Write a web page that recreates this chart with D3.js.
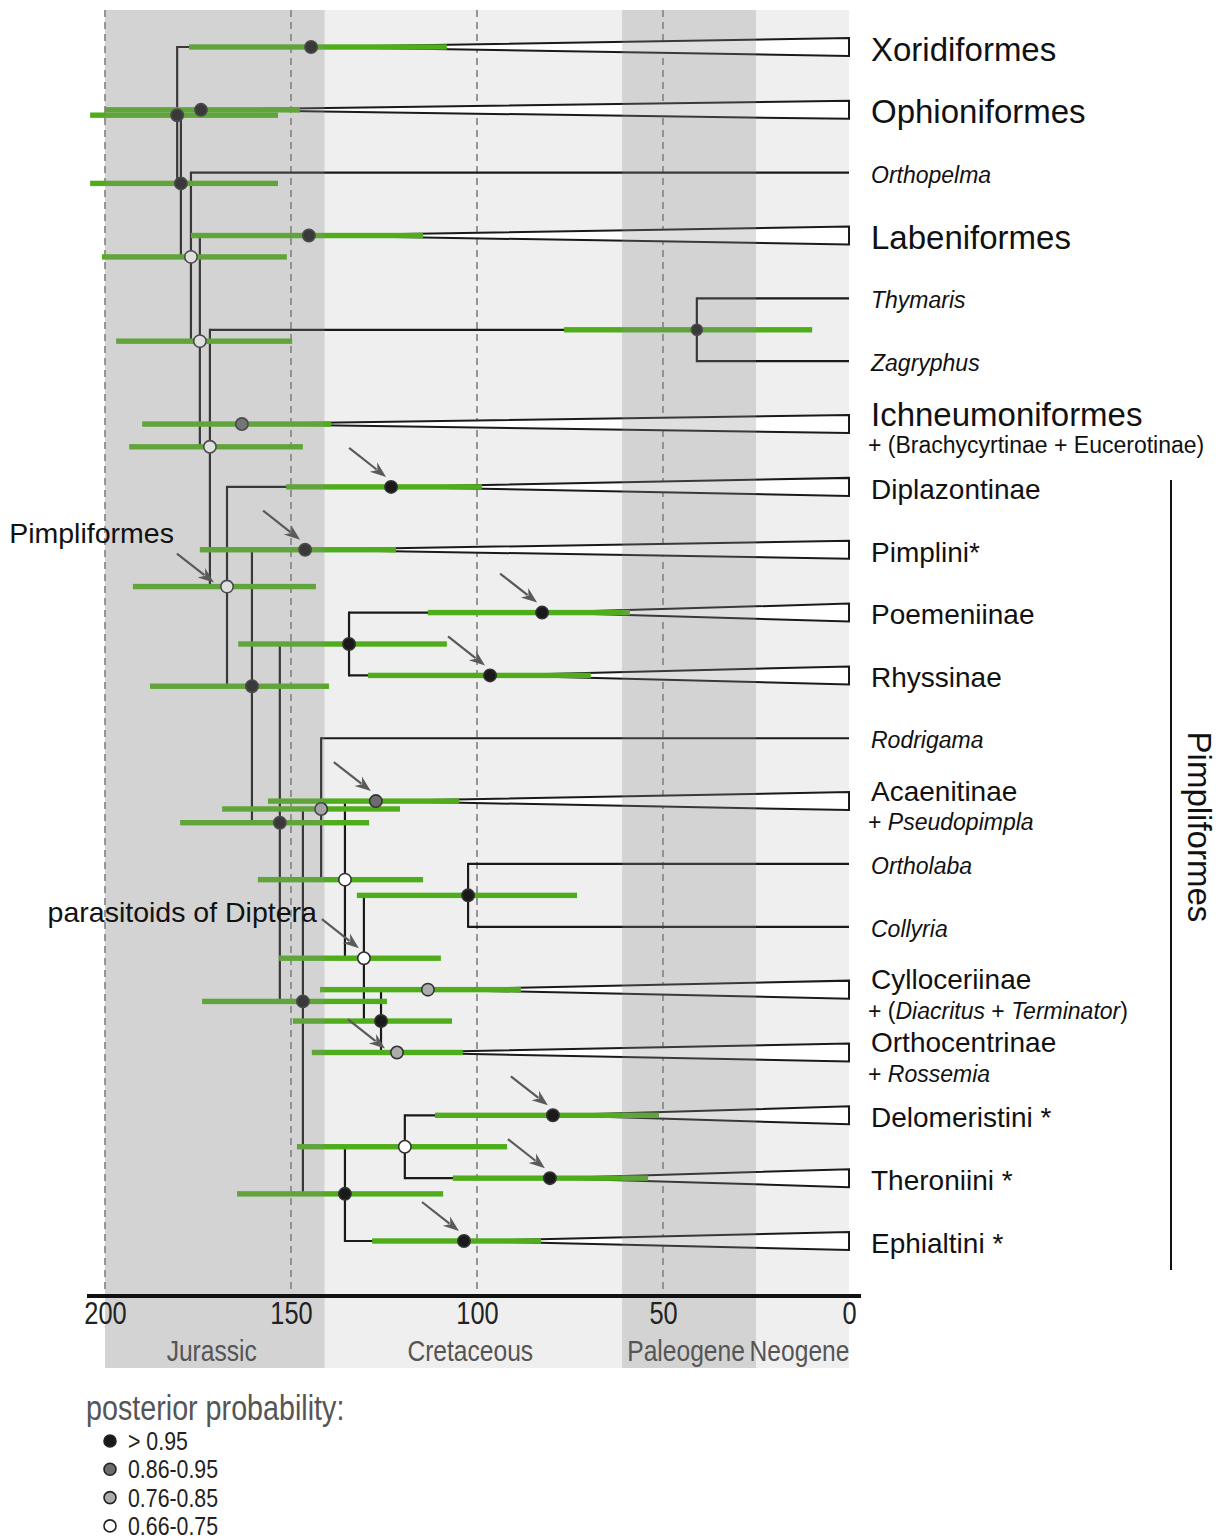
<!DOCTYPE html>
<html lang="en">
  <head>
    <meta charset="UTF-8" />
    <title>Pimpliformes dated tree</title>
    <script src="https://cdn.jsdelivr.net/npm/d3@7"></script>
    <style>
      body { margin: 0; background: #fff; }
      text { font-family: "Liberation Sans", Arial, Helvetica, sans-serif; }
    </style>
  </head>
  <body>
    <svg id="container" width="1223" height="1540"></svg>
    <script>
      // tree nodes: [id, parent, age (Ma), 95% HPD old, 95% HPD young, posterior class]
      // tips with age 0 are single genera, tips with an age are collapsed clades
      let nodes = [
        ["root", null, 180.6, 204, 153.5, 0],
        ["Xoridiformes", "root", 144.6, 177.4, 108.1, 0],
        ["n2", "root", 179.6, 204, 153.5, 0],
        ["Ophioniformes", "n2", 174.2, 200, 147.6, 0],
        ["n3", "n2", 176.9, 200.8, 151.1, 3],
        ["Orthopelma", "n3", 0],
        ["n4", "n3", 174.5, 197, 149.7, 3],
        ["Labeniformes", "n4", 145.2, 176.9, 114.5, 0],
        ["n5", "n4", 171.8, 193.5, 146.8, 3],
        ["n6", "n5", 40.9, 76.6, 9.9, 0],
        ["Thymaris", "n6", 0],
        ["Zagryphus", "n6", 0],
        ["Ichneumoniformes", "n5", 163.2, 190, 139.2, 1],
        ["Pimpliformes", "n5", 167.2, 192.5, 143.3, 3],
        ["Diplazontinae", "Pimpliformes", 123.1, 151.3, 98.7, 0],
        ["n8", "Pimpliformes", 160.5, 187.9, 139.8, 0],
        ["Pimplini", "n8", 146.2, 174.5, 121.8, 0],
        ["n9", "n8", 153, 179.8, 129, 0],
        ["n10", "n9", 134.4, 164.2, 108.1, 0],
        ["Poemeniinae", "n10", 82.5, 113.2, 58.9, 0],
        ["Rhyssinae", "n10", 96.5, 129.3, 69.4, 0],
        ["n11", "n9", 146.8, 173.9, 124.2, 0],
        ["n12", "n11", 141.9, 168.5, 120.7, 2],
        ["Rodrigama", "n12", 0],
        ["n13", "n12", 135.5, 158.9, 114.5, 3],
        ["Acaenitinae", "n13", 127.2, 156.2, 104.8, 1],
        ["Diptera", "n13", 130.4, 153.2, 109.7, 3],
        ["n15", "Diptera", 102.4, 132.3, 73.1, 0],
        ["Ortholaba", "n15", 0],
        ["Collyria", "n15", 0],
        ["n16", "Diptera", 125.8, 149.5, 106.7, 0],
        ["Cylloceriinae", "n16", 113.2, 142.2, 88.2, 2],
        ["Orthocentrinae", "n16", 121.5, 144.4, 103.8, 2],
        ["n17", "n11", 135.5, 164.5, 109.1, 0],
        ["n18", "n17", 119.4, 148.4, 91.9, 3],
        ["Delomeristini", "n18", 79.6, 111.3, 51.1, 0],
        ["Theroniini", "n18", 80.4, 106.5, 54, 0],
        ["Ephialtini", "n17", 103.5, 128.2, 82.8, 0],
      ];

      // tip labels: [tip, text, kind]
      let tipLabels = [
        ["Xoridiformes", "Xoridiformes", "major"],
        ["Ophioniformes", "Ophioniformes", "major"],
        ["Orthopelma", "Orthopelma", "genus"],
        ["Labeniformes", "Labeniformes", "major"],
        ["Thymaris", "Thymaris", "genus"],
        ["Zagryphus", "Zagryphus", "genus"],
        ["Ichneumoniformes", "Ichneumoniformes", "major"],
        ["Diplazontinae", "Diplazontinae", "group"],
        ["Pimplini", "Pimplini*", "group"],
        ["Poemeniinae", "Poemeniinae", "group"],
        ["Rhyssinae", "Rhyssinae", "group"],
        ["Rodrigama", "Rodrigama", "genus"],
        ["Acaenitinae", "Acaenitinae", "group"],
        ["Ortholaba", "Ortholaba", "genus"],
        ["Collyria", "Collyria", "genus"],
        ["Cylloceriinae", "Cylloceriinae", "group"],
        ["Orthocentrinae", "Orthocentrinae", "group"],
        ["Delomeristini", "Delomeristini *", "group"],
        ["Theroniini", "Theroniini *", "group"],
        ["Ephialtini", "Ephialtini *", "group"],
      ];

      // second lines under some tip labels: [tip, [text, italic]...]
      let subLabels = [
        ["Ichneumoniformes", [["+ (Brachycyrtinae + Eucerotinae)", false]]],
        ["Acaenitinae", [["+ ", false], ["Pseudopimpla", true]]],
        ["Cylloceriinae", [["+ (", false], ["Diacritus", true], [" + ", false], ["Terminator", true], [")", false]]],
        ["Orthocentrinae", [["+ ", false], ["Rossemia", true]]],
      ];

      // nodes pointed at by arrows
      let arrowNodes = ["Diplazontinae", "Pimplini", "Poemeniinae", "Rhyssinae", "Acaenitinae",
        "Diptera", "Delomeristini", "Theroniini", "Ephialtini"];
      let arrowStems = ["Pimpliformes", "Orthocentrinae"];
      let callouts = [["Pimpliformes", "Pimpliformes"], ["Diptera", "parasitoids of Diptera"]];

      // geological periods: [name, start Ma, end Ma, shaded]
      let periods = [
        ["Jurassic", 200, 141, true],
        ["Cretaceous", 141, 61, false],
        ["Paleogene", 61, 25, true],
        ["Neogene", 25, 0, false],
      ];
      let ageTicks = [200, 150, 100, 50, 0];
      let gridAges = [200, 150, 100, 50];

      let ppClasses = ["> 0.95", "0.86-0.95", "0.76-0.85", "0.66-0.75"];
      let ppFills = ["#1a1a1a", "#6c6c6c", "#acacac", "#ffffff"];

      let svg = d3.select("#container");
      let plotTop = 10, axisY = 1296, plotBottom = 1368;
      let x = d3.scaleLinear().domain([200, 0]).range([105, 849]);
      let y = d3.scaleLinear().domain([0, 19]).range([47, 1241]);
      let ppColor = d3.scaleOrdinal().domain([0, 1, 2, 3]).range(ppFills);
      let narrow = 0.82;

      // build the hierarchy
      let root = d3.stratify().id((d) => d[0]).parentId((d) => d[1])(nodes);
      root.each((n) => { n.age = n.data[2]; });
      root.leaves().forEach((l, i) => { l.yy = y(i); });
      root.eachAfter((n) => {
        if (n.children) n.yy = d3.mean(n.children, (c) => c.yy);
      });
      let byId = {};
      root.each((n) => { byId[n.id] = n; });

      // background
      svg.append("rect")
        .attr("x", x(200)).attr("y", plotTop)
        .attr("width", x(0) - x(200)).attr("height", plotBottom - plotTop)
        .attr("fill", "#efefef");

      svg.append("g").selectAll("line").data(gridAges).enter().append("line")
        .attr("x1", (d) => x(d)).attr("x2", (d) => x(d))
        .attr("y1", plotTop).attr("y2", axisY)
        .attr("stroke", "#8c8c8c").attr("stroke-width", 1.8)
        .attr("stroke-dasharray", "7,5");

      let tree = svg.append("g");
      let ink = "#1a1a1a";

      // vertical connectors
      tree.selectAll("line.v").data(root.descendants().filter((n) => n.children)).enter()
        .append("line").attr("class", "v")
        .attr("x1", (n) => x(n.age)).attr("x2", (n) => x(n.age))
        .attr("y1", (n) => d3.min(n.children, (c) => c.yy) - 1)
        .attr("y2", (n) => d3.max(n.children, (c) => c.yy) + 1)
        .attr("stroke", ink).attr("stroke-width", 2.2);

      // horizontal branches
      tree.selectAll("line.h").data(root.descendants().filter((n) => n.parent)).enter()
        .append("line").attr("class", "h")
        .attr("x1", (n) => x(n.parent.age)).attr("x2", (n) => x(n.age))
        .attr("y1", (n) => n.yy).attr("y2", (n) => n.yy)
        .attr("stroke", ink).attr("stroke-width", 2.2);

      // collapsed clades
      let collapsed = root.leaves().filter((l) => l.age > 0);
      tree.selectAll("path.clade").data(collapsed).enter()
        .append("path").attr("class", "clade")
        .attr("d", (n) => `M${x(n.age)},${n.yy}L${x(0)},${n.yy - 9}L${x(0)},${n.yy + 9}Z`)
        .attr("fill", "#fff").attr("stroke", ink).attr("stroke-width", 2)
        .attr("stroke-linejoin", "miter");

      // 95% HPD bars
      let dated = root.descendants().filter((n) => n.age > 0);
      tree.selectAll("rect.hpd").data(dated).enter()
        .append("rect").attr("class", "hpd")
        .attr("x", (n) => x(n.data[3])).attr("width", (n) => x(n.data[4]) - x(n.data[3]))
        .attr("y", (n) => n.yy - 2.7).attr("height", 5.4)
        .attr("fill", "#4fad1c");

      // node support
      tree.selectAll("circle").data(dated).enter().append("circle")
        .attr("cx", (n) => x(n.age)).attr("cy", (n) => n.yy)
        .attr("r", (n) => (n.id === "n6" ? 5.5 : 6.2))
        .attr("fill", (n) => ppColor(n.data[5]))
        .attr("stroke", "#333").attr("stroke-width", 1.6);

      // shaded periods sit over the tree like a tinted film
      svg.append("g").selectAll("rect").data(periods.filter((p) => p[3])).enter()
        .append("rect")
        .attr("x", (p) => x(p[1])).attr("width", (p) => x(p[2]) - x(p[1]))
        .attr("y", plotTop).attr("height", plotBottom - plotTop)
        .attr("fill", "rgb(140,140,140)").attr("opacity", 0.28);

      // time axis
      svg.append("line")
        .attr("x1", x(200) - 18).attr("x2", x(0) + 12)
        .attr("y1", axisY).attr("y2", axisY)
        .attr("stroke", "#111").attr("stroke-width", 4);
      let axis = svg.append("g").attr("transform", `translate(0,${axisY})`)
        .call(d3.axisBottom(x).tickValues(ageTicks).tickSize(0).tickPadding(6));
      axis.select(".domain").remove();
      axis.selectAll("text")
        .attr("font-size", 31).attr("fill", "#222")
        .attr("font-family", "Liberation Sans, Arial, sans-serif")
        .attr("transform", `scale(${narrow},1)`);

      svg.append("g").selectAll("text").data(periods).enter().append("text")
        .attr("transform", (p) => `translate(${x((p[1] + p[2]) / 2) - 3},${plotBottom - 7}) scale(${narrow},1)`)
        .attr("text-anchor", "middle").attr("font-size", 30).attr("fill", "#555")
        .text((p) => p[0]);

      // tip labels
      let labelX = 871;
      let sizes = { major: 33, group: 28, genus: 23 };
      let subTips = subLabels.map((s) => s[0]);
      let labels = svg.append("g");
      tipLabels.forEach(([tip, txt, kind]) => {
        let n = byId[tip];
        let yy = subTips.includes(tip) ? n.yy - 10 : n.yy + 2;
        labels.append("text")
          .attr("x", labelX).attr("y", yy).attr("dy", "0.35em")
          .attr("font-size", sizes[kind])
          .attr("font-style", kind === "genus" ? "italic" : "normal")
          .attr("fill", "#111").text(txt);
      });
      subLabels.forEach(([tip, parts]) => {
        let t = labels.append("text")
          .attr("x", labelX - 3).attr("y", byId[tip].yy + 21).attr("dy", "0.35em")
          .attr("font-size", 23).attr("fill", "#111");
        parts.forEach(([s, it]) => {
          t.append("tspan").attr("font-style", it ? "italic" : "normal").text(s);
        });
      });

      // Pimpliformes bracket
      let pimpl = byId["Pimpliformes"].leaves();
      let bTop = pimpl[0].yy - 7, bBottom = pimpl[pimpl.length - 1].yy + 29;
      svg.append("line")
        .attr("x1", 1171).attr("x2", 1171).attr("y1", bTop).attr("y2", bBottom)
        .attr("stroke", "#111").attr("stroke-width", 2);
      svg.append("text")
        .attr("transform", `translate(1200,${(bTop + bBottom) / 2 - 48}) rotate(90)`)
        .attr("text-anchor", "middle").attr("dy", "0.35em")
        .attr("font-size", 33).attr("fill", "#111").text("Pimpliformes");

      // arrows
      let arrows = svg.append("g");
      function arrow(x2, y2) {
        let x1 = x2 - 37, y1 = y2 - 29;
        let a = Math.atan2(y2 - y1, x2 - x1), L = 16, W = 6;
        let c = Math.cos(a), s = Math.sin(a);
        let bx = x2 - L * c, by = y2 - L * s;
        arrows.append("line")
          .attr("x1", x1).attr("y1", y1).attr("x2", bx + 4 * c).attr("y2", by + 4 * s)
          .attr("stroke", "#5a5a5a").attr("stroke-width", 2.2);
        arrows.append("path")
          .attr("d", `M${x2},${y2}L${bx - W * s},${by + W * c}L${bx + 5 * c},${by + 5 * s}L${bx + W * s},${by - W * c}Z`)
          .attr("fill", "#5a5a5a");
        return [x1, y1];
      }
      let arrowStart = {};
      arrowNodes.forEach((id) => {
        let n = byId[id];
        arrowStart[id] = arrow(x(n.age) - 5, n.yy - 10);
      });
      arrowStems.forEach((id) => {
        let n = byId[id];
        arrowStart[id] = arrow(x(n.parent.age) + 4, n.yy - 4);
      });

      let calloutOffset = { Pimpliformes: [-3, -21], Diptera: [-5, -7] };
      callouts.forEach(([id, txt]) => {
        let [sx, sy] = arrowStart[id];
        svg.append("text")
          .attr("x", sx + calloutOffset[id][0]).attr("y", sy + calloutOffset[id][1])
          .attr("dy", "0.35em").attr("text-anchor", "end")
          .attr("font-size", 28.5).attr("fill", "#111").text(txt);
      });

      // legend
      let legend = svg.append("g").attr("transform", "translate(86,1420)");
      legend.append("text")
        .attr("transform", `scale(${narrow},1)`)
        .attr("font-size", 35).attr("fill", "#555").text("posterior probability:");
      let rows = legend.selectAll("g.row").data(ppClasses).enter().append("g")
        .attr("class", "row")
        .attr("transform", (d, i) => `translate(0,${21 + i * 28.3})`);
      rows.append("circle")
        .attr("cx", 24).attr("cy", 0).attr("r", 6)
        .attr("fill", (d, i) => ppColor(i))
        .attr("stroke", "#222").attr("stroke-width", 1.6);
      rows.append("text")
        .attr("transform", `translate(42,9) scale(${narrow},1)`)
        .attr("font-size", 26).attr("fill", "#222").text((d) => d);
    </script>
  </body>
</html>
